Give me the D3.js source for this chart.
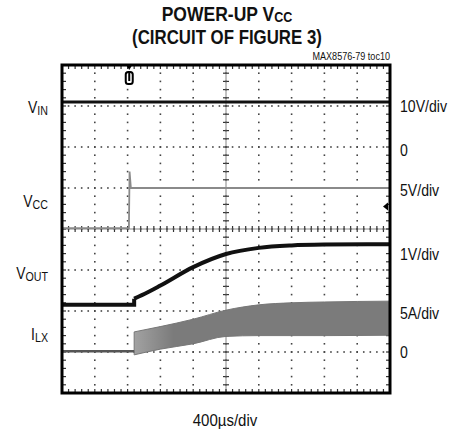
<!DOCTYPE html>
<html>
<head>
<meta charset="utf-8">
<script src="https://cdn.jsdelivr.net/npm/d3@7"></script>
<style>
  body { margin: 0; background: #fff; }
  text { font-family: 'Liberation Sans', Arial, sans-serif; fill: #111; }
</style>
</head>
<body>
<svg id="chart" width="453" height="435"></svg>
<script>
// traces, in scope divisions (x: 0..10, y: 0..8 from bottom)
const vinTime = [0, 10];
const vinLevel = [7.1, 7.1];
const vccTime = [0, 2.04, 2.06, 2.1, 10];
const vccLevel = [4.02, 4.02, 5.4, 5.0, 5.0];
const voutTime = [0, 2.2];
const voutLevel = [2.15, 2.15];
const rampTime = [2.2, 2.6, 3.0, 4.0, 5.0, 6.0, 7.0, 8.0, 10];
const rampLevel = [2.3, 2.45, 2.62, 3.07, 3.39, 3.54, 3.6, 3.62, 3.63];
const ilxTime = [0, 2.2];
const ilxLevel = [1.02, 1.02];
const bandTime = [2.2, 3.0, 4.0, 5.0, 6.0, 7.0, 8.0, 10];
const bandHigh = [1.49, 1.62, 1.8, 2.02, 2.15, 2.2, 2.22, 2.24];
const bandLow = [0.93, 1.07, 1.2, 1.38, 1.4, 1.4, 1.4, 1.41];

const leftNames = ["V", "V", "V", "I"];
const leftSubs = ["IN", "CC", "OUT", "LX"];
const leftLevels = [7.0, 4.7, 2.95, 1.46];
const rightLabels = ["10V/div", "0", "5V/div", "1V/div", "5A/div", "0"];
const rightLevels = [7.0, 5.93, 4.95, 3.4, 1.95, 1.0];

const svg = d3.select('#chart');
const x = d3.scaleLinear().domain([0, 10]).range([62, 390]);
const y = d3.scaleLinear().domain([0, 8]).range([393, 65]);

// squeeze a text horizontally (no condensed font installed)
function squeeze(sel, ax, k) {
  sel.attr('transform', `translate(${ax},0) scale(${k},1) translate(${-ax},0)`);
}
function fit(sel, ax, w) {
  const k = w / sel.node().getBBox().width;
  squeeze(sel, ax, k);
}

// title
const t1 = svg.append('text').attr('x', 227).attr('y', 21).attr('text-anchor', 'middle')
  .attr('font-size', 21).attr('font-weight', 'bold');
t1.append('tspan').text('POWER-UP V');
t1.append('tspan').attr('font-size', 15).attr('dy', 1).text('CC');
fit(t1, 227, 131);
const t2 = svg.append('text').attr('x', 227).attr('y', 44).attr('text-anchor', 'middle')
  .attr('font-size', 21).attr('font-weight', 'bold')
  .text('(CIRCUIT OF FIGURE 3)');
fit(t2, 227, 190);
const t3 = svg.append('text').attr('x', 390).attr('y', 60).attr('text-anchor', 'end')
  .attr('font-size', 10).text('MAX8576-79 toc10');
fit(t3, 390, 78);

// grid
const g = svg.append('g');
const minorX = d3.range(0, 50.5).map(i => i / 5);
const minorY = d3.range(0, 40.5).map(i => i / 5);
d3.range(1, 10).forEach(i => {
  g.selectAll(null).data(minorY).enter().append('rect')
    .attr('x', x(i) - 0.8).attr('y', d => y(d) - 0.8)
    .attr('width', 1.6).attr('height', 1.6).attr('fill', '#444');
});
d3.range(1, 8).forEach(j => {
  g.selectAll(null).data(minorX).enter().append('rect')
    .attr('x', d => x(d) - 0.8).attr('y', y(j) - 0.8)
    .attr('width', 1.6).attr('height', 1.6).attr('fill', '#444');
});
// center axis ticks
g.selectAll(null).data(minorX).enter().append('line')
  .attr('x1', d => x(d)).attr('x2', d => x(d))
  .attr('y1', y(4) - 3).attr('y2', y(4) + 3)
  .attr('stroke', '#333').attr('stroke-width', 1.2);
g.selectAll(null).data(minorY).enter().append('line')
  .attr('y1', d => y(d)).attr('y2', d => y(d))
  .attr('x1', x(5) - 3).attr('x2', x(5) + 3)
  .attr('stroke', '#333').attr('stroke-width', 1.2);
g.append('line').attr('x1', x(0)).attr('x2', x(10)).attr('y1', y(4)).attr('y2', y(4))
  .attr('stroke', '#666').attr('stroke-width', 0.8);
g.append('line').attr('x1', x(5)).attr('x2', x(5)).attr('y1', y(0)).attr('y2', y(8))
  .attr('stroke', '#666').attr('stroke-width', 0.8);
// border ticks
[0, 8].forEach(j => {
  const dir = j === 8 ? 1 : -1;
  g.selectAll(null).data(minorX).enter().append('line')
    .attr('x1', d => x(d)).attr('x2', d => x(d))
    .attr('y1', y(j)).attr('y2', y(j) + dir * 4)
    .attr('stroke', '#333').attr('stroke-width', 1.2);
});
[0, 10].forEach(i => {
  const dir = i === 0 ? 1 : -1;
  g.selectAll(null).data(minorY).enter().append('line')
    .attr('y1', d => y(d)).attr('y2', d => y(d))
    .attr('x1', x(i)).attr('x2', x(i) + dir * 4)
    .attr('stroke', '#333').attr('stroke-width', 1.2);
});

// traces
const line = d3.line().x(d => x(d[0])).y(d => y(d[1]));
const smooth = d3.line().x(d => x(d[0])).y(d => y(d[1])).curve(d3.curveMonotoneX);
const pairs = (ts, vs) => ts.map((t, i) => [t, vs[i]]);

const grad = svg.append('defs').append('linearGradient').attr('id', 'bandFill')
  .attr('gradientUnits', 'userSpaceOnUse')
  .attr('x1', x(2.2)).attr('x2', x(3.4)).attr('y1', 0).attr('y2', 0);
grad.append('stop').attr('offset', 0).attr('stop-color', '#a2a2a2');
grad.append('stop').attr('offset', 1).attr('stop-color', '#7b7b7b');

const band = bandTime.map((t, i) => [t, bandLow[i], bandHigh[i]]);
svg.append('path').datum(band)
  .attr('d', d3.area().x(d => x(d[0])).y0(d => y(d[1])).y1(d => y(d[2])).curve(d3.curveMonotoneX))
  .attr('fill', 'url(#bandFill)').attr('stroke', '#777').attr('stroke-width', 1);

svg.append('path').datum(pairs(ilxTime, ilxLevel))
  .attr('d', line).attr('fill', 'none').attr('stroke', '#555').attr('stroke-width', 2.5);

svg.append('path').datum(pairs(vccTime, vccLevel))
  .attr('d', line).attr('fill', 'none').attr('stroke', '#8a8a8a').attr('stroke-width', 1.8);

svg.append('path').datum(pairs(vinTime, vinLevel))
  .attr('d', line).attr('fill', 'none').attr('stroke', '#111').attr('stroke-width', 3);

svg.append('path').datum(pairs(voutTime, voutLevel).concat([[rampTime[0], rampLevel[0]]]))
  .attr('d', line).attr('fill', 'none').attr('stroke', '#111').attr('stroke-width', 4);
svg.append('path').datum(pairs(rampTime, rampLevel))
  .attr('d', smooth).attr('fill', 'none').attr('stroke', '#111').attr('stroke-width', 4);

// frame
svg.append('rect').attr('x', x(0)).attr('y', y(8))
  .attr('width', x(10) - x(0)).attr('height', y(0) - y(8))
  .attr('fill', 'none').attr('stroke', '#000').attr('stroke-width', 3);

// trigger marker
svg.append('path')
  .attr('d', `M${x(2.05) - 3},${y(8)} L${x(2.05) + 3},${y(8)} L${x(2.05)},${y(8) + 5} Z`)
  .attr('fill', '#000');
svg.append('rect').attr('x', x(2.05) - 3.5).attr('y', y(8) + 7).attr('width', 7).attr('height', 12)
  .attr('rx', 2.5).attr('fill', '#fff').attr('stroke', '#000').attr('stroke-width', 2);
svg.append('line').attr('x1', x(2.05)).attr('x2', x(2.05))
  .attr('y1', y(8) + 7).attr('y2', y(8) + 16).attr('stroke', '#000').attr('stroke-width', 2);
// ground marker of VCC channel
svg.append('path')
  .attr('d', `M${x(10) - 7},${y(4.55)} L${x(10) - 2},${y(4.55) - 4} L${x(10) - 2},${y(4.55) + 4} Z`)
  .attr('fill', '#000');

// channel labels
leftNames.forEach((n, i) => {
  const t = svg.append('text').attr('x', 48).attr('y', y(leftLevels[i]) + 7)
    .attr('text-anchor', 'end').attr('font-size', 17);
  t.append('tspan').text(n);
  t.append('tspan').attr('font-size', 13).attr('dy', 2).text(leftSubs[i]);
  squeeze(t, 48, 0.82);
});
rightLabels.forEach((s, i) => {
  const t = svg.append('text').attr('x', 400).attr('y', y(rightLevels[i]) + 6)
    .attr('font-size', 17).text(s);
  squeeze(t, 400, 0.83);
});
const xl = svg.append('text').attr('x', 225).attr('y', 426).attr('text-anchor', 'middle')
  .attr('font-size', 17).text('400\u00b5s/div');
fit(xl, 225, 65);
</script>
</body>
</html>
